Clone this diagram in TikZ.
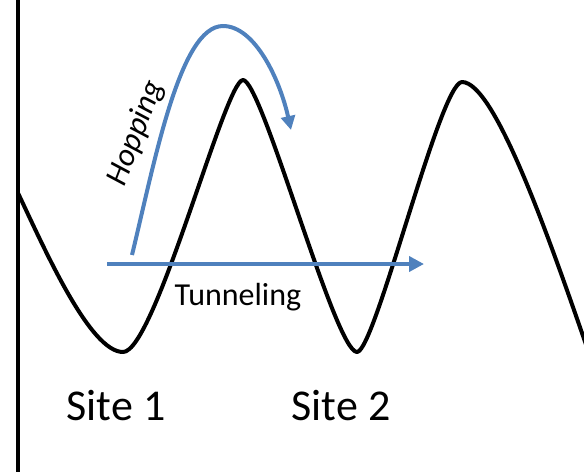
\documentclass[tikz,border=0pt]{standalone}
\usepackage{fontspec}
\setmainfont{Carlito}
\usepackage{xcolor}
\usepackage{tikz}
\usetikzlibrary{positioning,arrows.meta}
\definecolor{moveblue}{RGB}{79,129,189}
\tikzset{
    wave/.style={line width=4pt,black,line join=round},
    wall/.style={line width=4pt,black},
    arr/.style={line width=4pt,moveblue,-{Triangle[length=15pt,width=15pt]}},
    hoparr/.style={line width=4pt,moveblue,-{Triangle[length=14pt,width=14pt]}},
    sitelbl/.style={font=\fontsize{44}{50}\selectfont,inner sep=0pt,anchor=base},
    movelbl/.style={font=\fontsize{32}{38}\selectfont,inner sep=0pt},
}

\begin{document}
\begin{tikzpicture}[x=1pt,y=-1pt]
\useasboundingbox (0,0) rectangle (584,472);
\clip (0,0) rectangle (584,472);
% potential landscape
\draw[wave] (18,193) .. controls (45,250) and (90,352) .. (123,352)
  .. controls (155,352) and (225,80) .. (243,80)
  .. controls (262,80) and (335,352) .. (357,352)
  .. controls (375,352) and (440,82) .. (462,82)
  .. controls (495,82) and (550,240) .. (592,362);
\draw[wall] (18,0) -- (18,472);
% transport paths
\coordinate (tunA) at (107,264);
\coordinate (tunB) at (424,264);
\coordinate (hopA) at (132,255);
\coordinate (hopB) at (291,130);
\draw[arr] (tunA) -- (tunB);
\draw[hoparr] (hopA) .. controls (155,160) and (180,26) .. (223,26)
  .. controls (255,26) and (280,80) .. (hopB);
% labels
\node[movelbl,rotate=69] (hop) at (136,133) {\textit{Hopping}};
\node[movelbl,anchor=base] (tun) at (238,305) {Tunneling};
\node[sitelbl] (site1) at (116,420) {Site 1};
\node[sitelbl] (site2) at (341,420) {Site 2};
\end{tikzpicture}
\end{document}
